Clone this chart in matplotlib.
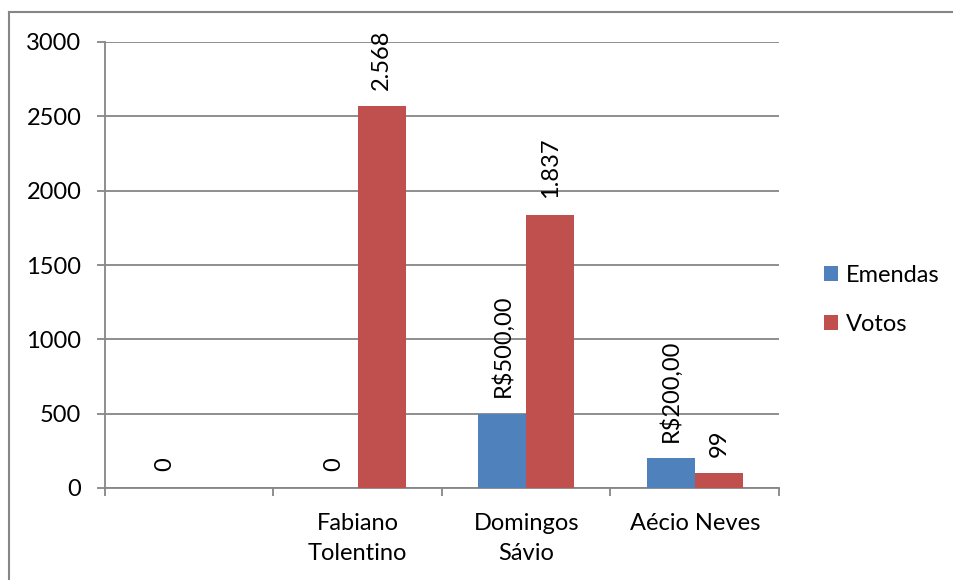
import matplotlib
matplotlib.use("Agg")
import matplotlib.pyplot as plt
from matplotlib.lines import Line2D
import numpy as np

plt.rcParams['font.family'] = ['Lato', 'DejaVu Sans']

# Data
categories = ["", "Fabiano\nTolentino", "Domingos\nSávio", "Aécio Neves"]
emendas = [0, 0, 500, 200]
emendas_labels = ["0", "0", "R$500,00", "R$200,00"]
votos = [np.nan, 2568, 1837, 99]
votos_labels = ["", "2.568", "1.837", "99"]
series_names = ["Emendas", "Votos"]
y_ticks = [0, 500, 1000, 1500, 2000, 2500, 3000]

blue = "#4F81BD"
red = "#C0504D"
grid_gray = "#868686"

fig = plt.figure(figsize=(9.54, 5.8), dpi=100)
W, H = 954, 580
ax = fig.add_axes([105 / W, 1 - 488 / H, (779 - 105) / W, (488 - 42) / H])

x = np.arange(len(categories))
bw = 0.285
b1 = ax.bar(x - bw / 2, emendas, width=bw, color=blue, label=series_names[0], zorder=3)
b2 = ax.bar(x + bw / 2, votos, width=bw, color=red, label=series_names[1], zorder=3)

fs = 17
for xi, v, lab in zip(x - bw / 2, emendas, emendas_labels):
    if lab:
        ax.annotate(lab, (xi, v), xytext=(0, 12), textcoords="offset points",
                    rotation=90, ha="center", va="bottom", fontsize=fs, zorder=4)
for xi, v, lab in zip(x + bw / 2, votos, votos_labels):
    if lab and not np.isnan(v):
        ax.annotate(lab, (xi, v), xytext=(0, 12), textcoords="offset points",
                    rotation=90, ha="center", va="bottom", fontsize=fs, zorder=4)

ax.set_xlim(-0.5, len(categories) - 0.5)
ax.set_ylim(0, 3000)
ax.set_yticks(y_ticks)
ax.set_yticklabels([str(t) for t in y_ticks], fontsize=fs)
ax.yaxis.grid(True, color=grid_gray, linewidth=1.3, zorder=0)
ax.set_axisbelow(True)

# category boundaries carry the tick marks, names sit centred below each group
ax.set_xticks(np.arange(len(categories) + 1) - 0.5)
ax.set_xticklabels([])
ax.set_xticks(x, minor=True)
ax.set_xticklabels(categories, minor=True, fontsize=fs, linespacing=1.55)
ax.tick_params(axis="x", which="minor", length=0, pad=18)
ax.tick_params(axis="x", which="major", length=6, width=1.3, color=grid_gray, direction="out")
ax.tick_params(axis="y", length=6, width=1.3, color=grid_gray, direction="out", pad=11)

for s in ["top", "right"]:
    ax.spines[s].set_visible(False)
for s in ["left", "bottom"]:
    ax.spines[s].set_color(grid_gray)
    ax.spines[s].set_linewidth(1.3)

leg = fig.legend(handles=[b1, b2], labels=series_names, loc="center left",
                 bbox_to_anchor=(803 / W, 1 - 300 / H), frameon=False,
                 fontsize=fs, handlelength=0.6, handleheight=0.6,
                 handletextpad=0.3, labelspacing=1.2)

# chart area outline
fig.add_artist(Line2D([9.5 / W, 9.5 / W], [0, 1 - 12 / H], color=grid_gray, linewidth=1.5))
fig.add_artist(Line2D([9.5 / W, 1], [1 - 12 / H, 1 - 12 / H], color=grid_gray, linewidth=1.5))

fig.savefig("out.png", dpi=100)
